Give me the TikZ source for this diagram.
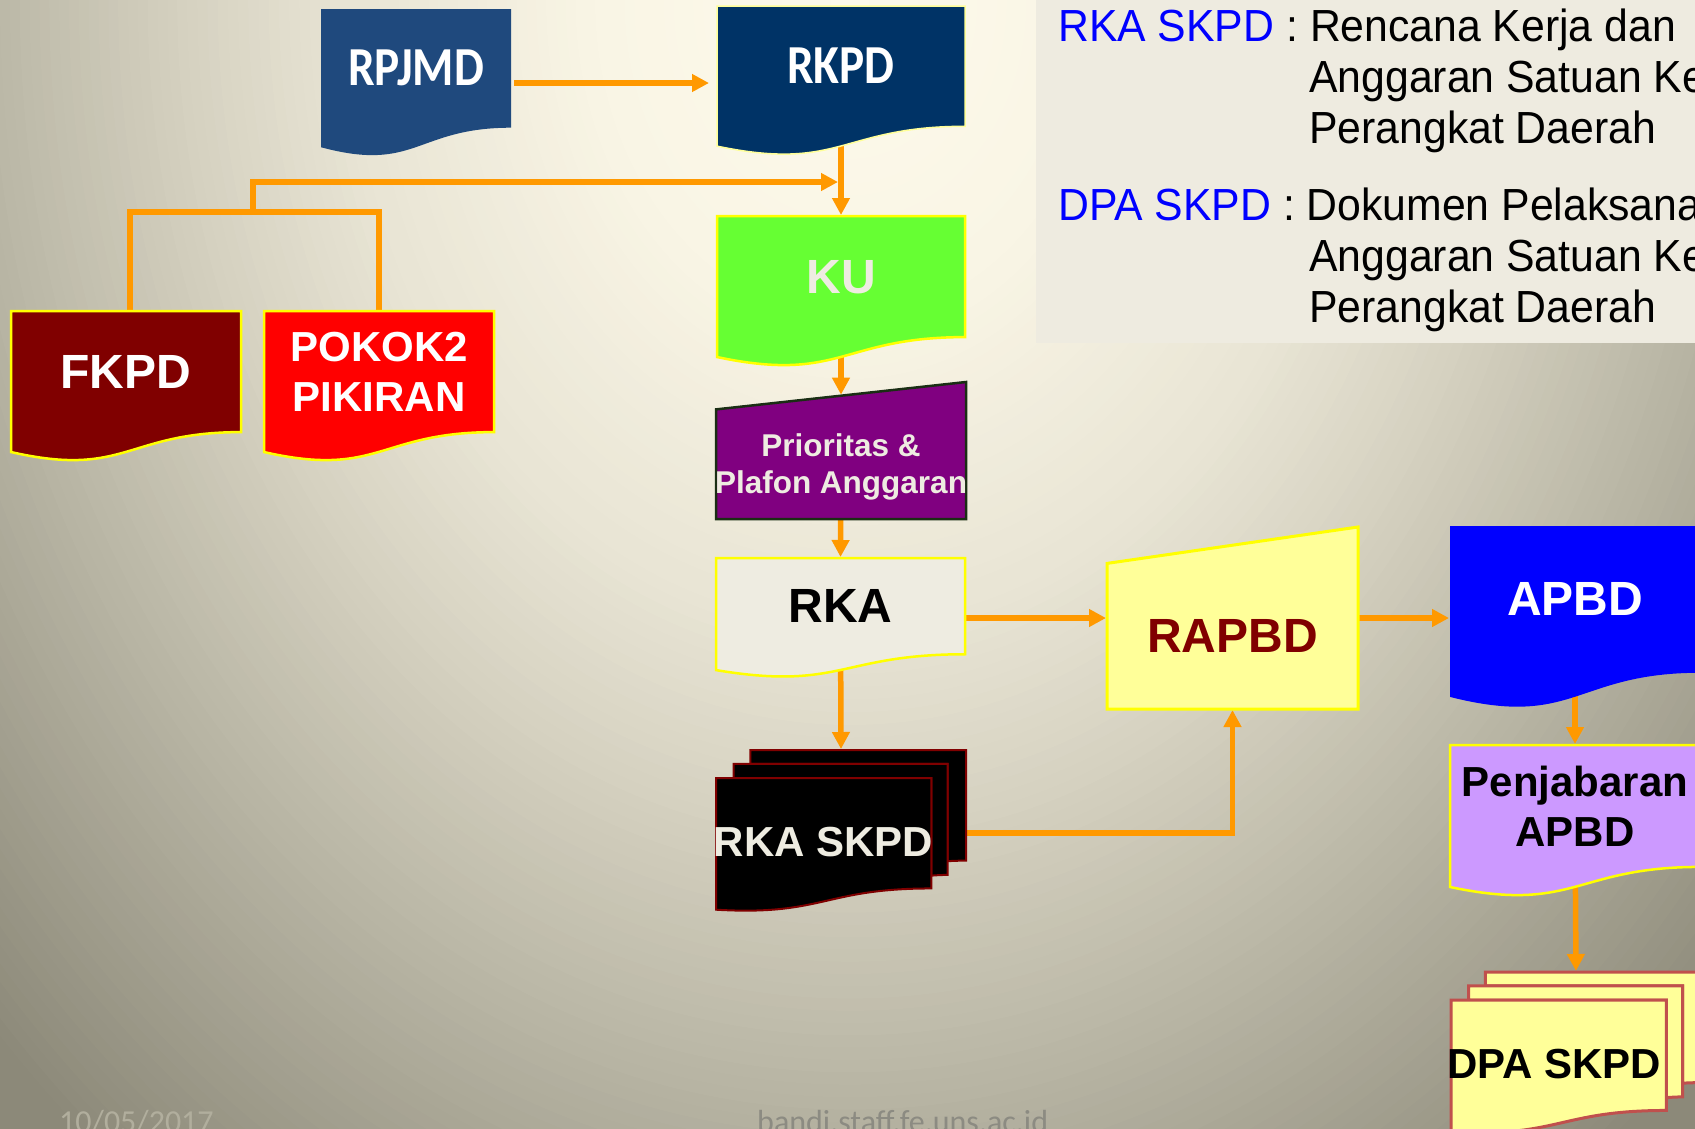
\documentclass[tikz,border=0pt]{standalone}
\usepackage{fontspec}
\setmainfont{Liberation Sans}
\newfontfamily\titlefont[FakeStretch=0.86]{Carlito}
\newfontfamily\notefont[FakeStretch=0.95]{Liberation Sans}
\newfontfamily\footfont{Carlito}
\usetikzlibrary{arrows.meta,calc}

% palette
\definecolor{linkorange}{HTML}{FF9900}
\definecolor{rpjmdblue}{HTML}{1F497D}
\definecolor{rkpdblue}{HTML}{003366}
\definecolor{edgepale}{HTML}{FFFF99}
\definecolor{edgeyellow}{HTML}{FFFF00}
\definecolor{kugreen}{HTML}{66FF33}
\definecolor{fkpdred}{HTML}{800000}
\definecolor{pokokred}{HTML}{FF0000}
\definecolor{prioviolet}{HTML}{800080}
\definecolor{prioedge}{HTML}{1A2E14}
\definecolor{paper}{HTML}{EEECE1}
\definecolor{lightyellow}{HTML}{FFFF99}
\definecolor{apbdblue}{HTML}{0000FF}
\definecolor{lilac}{HTML}{CC99FF}
\definecolor{dpaedge}{HTML}{C0504D}
\definecolor{noteblue}{HTML}{0000FF}
\definecolor{notebg}{HTML}{EEEBE0}
\definecolor{datecol}{HTML}{B1AE9D}
\definecolor{urlcol}{HTML}{8C8B82}
% slide background tones, centre to rim
\definecolor{bgA}{HTML}{FDFAEB}
\definecolor{bgB}{HTML}{F9F5E5}
\definecolor{bgC}{HTML}{E8E4D4}
\definecolor{bgD}{HTML}{D6D2C1}
\definecolor{bgE}{HTML}{BCB9A8}
\definecolor{bgF}{HTML}{8C8979}

\pgfdeclarelayer{back}
\pgfdeclarelayer{links}
\pgfsetlayers{back,links,main}

% flowchart "document": #1 name, #2 left, #3 top, #4 width, #5 height, #6 path style
\newcommand{\docshape}[6]{%
  \begin{scope}[shift={(#2,#3)}, x=#4pt, y=-#5pt]
    \node[bbox, minimum width=#4pt, minimum height=#5pt, anchor=north west] (#1) at (0,0) {};
    \path[#6] (0,0) -- (1,0) -- (1,0.802)
      .. controls (0.5,0.802) and (0.5,1.1075) .. (0,0.934) -- cycle;
  \end{scope}}

% flowchart "manual input"
\newcommand{\manualshape}[6]{%
  \begin{scope}[shift={(#2,#3)}, x=#4pt, y=-#5pt]
    \node[bbox, minimum width=#4pt, minimum height=#5pt, anchor=north west] (#1) at (0,0) {};
    \path[#6] (0,0.2) -- (1,0) -- (1,1) -- (0,1) -- cycle;
  \end{scope}}

% flowchart "multiple documents": three stacked sheets
\newcommand{\multidocshape}[6]{%
  \begin{scope}[shift={(#2,#3)}, x=#4pt, y=-#5pt]
    \node[bbox, minimum width=#4pt, minimum height=#5pt, anchor=north west] (#1) at (0,0) {};
    \path[#6] (0.1376,0.084) -- (0.1376,0) -- (1,0) -- (1,0.6663)
      .. controls (0.963,0.6663) and (0.926,0.6698) .. (0.926,0.6698) -- (0.926,0.084) -- cycle;
    \path[#6] (0.0709,0.170) -- (0.0709,0.084) -- (0.926,0.084) -- (0.926,0.7524)
      .. controls (0.8934,0.7524) and (0.861,0.757) .. (0.861,0.757) -- (0.861,0.170) -- cycle;
    \path[#6] (0,0.170) -- (0.861,0.170) -- (0.861,0.834)
      .. controls (0.4305,0.834) and (0.4305,1) .. (0,0.962) -- cycle;
  \end{scope}}

\begin{document}
\begin{tikzpicture}[x=1pt, y=-1pt,
  bbox/.style={rectangle, draw=none, inner sep=0pt, outer sep=0pt},
  lbl/.style={inner sep=0pt, align=center, text depth=0pt},
  big/.style={lbl, font={\bfseries\fontsize{48pt}{51pt}\selectfont}},
  mid/.style={lbl, font={\bfseries\fontsize{42pt}{50pt}\selectfont}},
  small/.style={lbl, font={\bfseries\fontsize{31.5pt}{37pt}\selectfont}},
  title/.style={lbl, font={\titlefont\bfseries\fontsize{55pt}{55pt}\selectfont}},
  note/.style={anchor=base west, inner sep=0pt, font={\notefont\fontsize{45pt}{51pt}\selectfont}},
  foot/.style={anchor=base west, inner sep=0pt, font={\footfont\fontsize{32pt}{32pt}\selectfont}},
  link/.style={draw=linkorange, line width=5.5pt, -{Triangle[length=17pt,width=17pt]}},
  plainlink/.style={draw=linkorange, line width=5.5pt}]

\useasboundingbox (0,0) rectangle (1695,1128);

\begin{pgfonlayer}{back}
  \clip (-4,-4) rectangle (1699,1132);
  % elliptical slide gradient, light at the top centre
  \fill[bgF] (-4,-4) rectangle (1699,1132);
  \foreach \ri/\ro/\ci/\co in {1.0/1.41/bgE/bgF, 0.78/1.0/bgD/bgE,
      0.6/0.78/bgC/bgD, 0.3/0.6/bgB/bgC, 0/0.3/bgA/bgB}{
    \pgfmathtruncatemacro\n{ceil((\ro-\ri)/0.012)}
    \foreach \j in {\n,...,1}{
      \pgfmathsetmacro\rr{\ri+(\ro-\ri)*\j/\n}
      \pgfmathsetmacro\pp{100*\j/\n}
      \colorlet{ringcol}{\co!\pp!\ci}
      \fill[ringcol] (850,0) ellipse ({\rr*850pt} and {\rr*1060pt});
    }
  }
  \fill[notebg] (1036,-4) rectangle (1700,343);
\end{pgfonlayer}

\clip (-4,-4) rectangle (1699,1132);

% planning documents
\docshape{rpjmd}{321}{9}{190}{148}{fill=rpjmdblue}
\node[title, text=white] (rpjmd-t) at (416,68) {RPJMD};

\docshape{rkpd}{717}{6}{248}{150}{fill=rkpdblue, draw=edgepale, line width=1.5pt}
\node[title, text=white] (rkpd-t) at (841,66) {RKPD};

\docshape{ku}{717}{216}{248}{151}{fill=kugreen, draw=edgeyellow, line width=2.5pt}
\node[big, text=paper] (ku-t) at (841,276.5) {KU};

\docshape{fkpd}{11}{311}{230}{151}{fill=fkpdred, draw=edgeyellow, line width=2.5pt}
\node[big, text=white] (fkpd-t) at (126,371.5) {FKPD};

\docshape{pokok}{264}{311}{230}{151}{fill=pokokred, draw=edgeyellow, line width=2.5pt}
\node[mid, text=white] (pokok-t) at (379,372) {POKOK2\\PIKIRAN};

\manualshape{prio}{716}{382}{250}{137}{fill=prioviolet, draw=prioedge, line width=2.5pt}
\node[small, text=paper] (prio-t) at (841,464) {Prioritas \&\\Plafon Anggaran};

\docshape{rka}{716}{558}{249}{120}{fill=paper, draw=edgeyellow, line width=2.5pt}
\node[big, text=black] (rka-t) at (840.5,606) {RKA};

\multidocshape{rkaskpd}{716}{750}{250}{166}{fill=black, draw=fkpdred, line width=2pt}
\node[mid, text=paper] (rkaskpd-t) at (823.5,842) {RKA SKPD};

% budget documents
\manualshape{rapbd}{1107}{527}{251}{182}{fill=lightyellow, draw=edgeyellow, line width=3pt}
\node[big, text=fkpdred] (rapbd-t) at (1232.5,636) {RAPBD};

\docshape{apbd}{1450}{526}{250}{183}{fill=apbdblue}
\node[big, text=white] (apbd-t) at (1575,599) {APBD};

\docshape{penj}{1450}{745}{250}{152}{fill=lilac, draw=edgeyellow, line width=2.5pt}
\node[mid, text=black] (penj-t) at (1575,806) {Penjabaran\\APBD};

\multidocshape{dpa}{1451}{972}{250}{166}{fill=lightyellow, draw=dpaedge, line width=3pt}
\node[mid, text=black] (dpa-t) at (1554,1064) {DPA SKPD};

% junction points of the feeder lines
\coordinate (branch) at (253,212);
\coordinate (kuin) at (838,182);

\begin{pgfonlayer}{links}
  \draw[link, shorten <=3pt, shorten >=8pt] (rpjmd.east) -- (rpjmd.east -| rkpd.west);
  \draw[link, shorten >=1pt] (rkpd.center) -- (ku.north);
  \draw[plainlink] ([xshift=4pt]fkpd.north) |- (branch) -| (pokok.north);
  \draw[link] (branch) |- (kuin);
  \draw[link, shorten >=1pt] (ku.center) -- ($(prio.north)!0.1!(prio.south)$);
  \draw[link, shorten >=1pt] (prio.center) -- (rka.north);
  \draw[link, shorten >=1pt] (rka.center) -- (rkaskpd.north);
  \draw[link, shorten >=1pt] (rka.east) -- (rka.east -| rapbd.west);
  \draw[link, shorten >=1pt] (rkaskpd.east) -| (rapbd.south);
  \draw[link, shorten >=1pt] (rapbd.east) -- (rapbd.east -| apbd.west);
  \draw[link, shorten >=1pt] (apbd.center) -- (penj.north);
  \draw[link, shorten >=1pt] (penj.center) -- (dpa.north);
\end{pgfonlayer}

% glossary
\node[note] (t1) at (1058,41) {\textcolor{noteblue}{RKA SKPD} : Rencana Kerja dan};
\node[note] (t2) at (1309,92) {Anggaran Satuan Kerja};
\node[note] (t3) at (1309,143) {Perangkat Daerah};
\node[note] (t4) at (1058,220) {\textcolor{noteblue}{DPA SKPD} : Dokumen Pelaksanaan};
\node[note] (t5) at (1309,271) {Anggaran Satuan Kerja};
\node[note] (t6) at (1309,322) {Perangkat Daerah};

% footer
\node[foot, text=datecol] (date) at (59,1132) {10/05/2017};
\node[foot, text=urlcol] (url) at (757,1132) {bandi.staff.fe.uns.ac.id};

\end{tikzpicture}
\end{document}
